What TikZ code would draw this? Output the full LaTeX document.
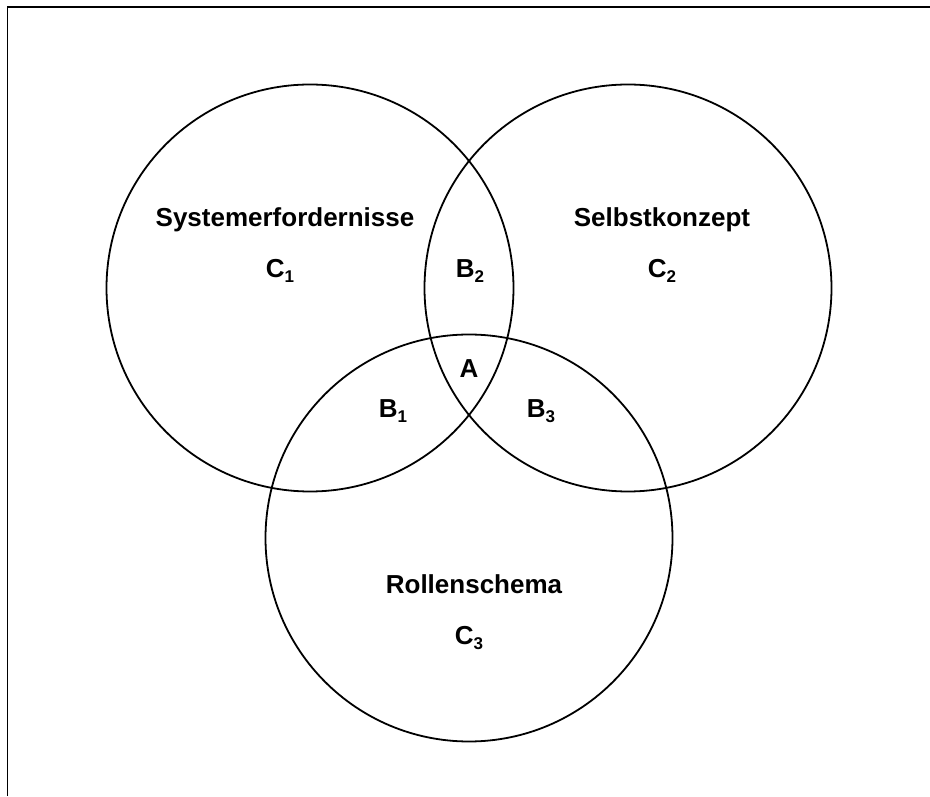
\documentclass[tikz,border=0pt]{standalone}
\usepackage{fontspec}
\setmainfont{Liberation Sans}
\newcommand{\subidx}[1]{\raisebox{-0.3ex}{\fontsize{17}{17}\selectfont #1}}
\begin{document}
\begin{tikzpicture}[x=1pt,y=1pt,
  setring/.style={draw=black,line width=1.8pt},
  lbl/.style={font=\fontsize{26}{28}\selectfont\bfseries,inner sep=0pt,anchor=base}]
\useasboundingbox (0,0) rectangle (930,796);
% frame (only its top and left edges fall inside the page)
\coordinate (fl) at (7.5,0);
\coordinate (ftl) at (7.5,789);
\coordinate (ftr) at (930,789);
\draw[line width=1.8pt] (fl) -- (ftl) -- (ftr);
% the three sets
\coordinate (c1) at (310,508);
\coordinate (c2) at (628,508);
\coordinate (c3) at (469,258);
\draw[setring] (c1) circle[radius=203.5];
\draw[setring] (c2) circle[radius=203.5];
\draw[setring] (c3) circle[radius=203.5];
% labels
\node[lbl] (t1) at (285,569) {Systemerfordernisse};
\node[lbl] (s1) at (280,518) {C\subidx{1}};
\node[lbl] (t2) at (662,569) {Selbstkonzept};
\node[lbl] (s2) at (662,518) {C\subidx{2}};
\node[lbl] (b2) at (470,518) {B\subidx{2}};
\node[lbl] (a)  at (469,418) {A};
\node[lbl] (b1) at (393,378) {B\subidx{1}};
\node[lbl] (b3) at (541,378) {B\subidx{3}};
\node[lbl] (t3) at (474,202) {Rollenschema};
\node[lbl] (s3) at (469,151) {C\subidx{3}};
\end{tikzpicture}
\end{document}
